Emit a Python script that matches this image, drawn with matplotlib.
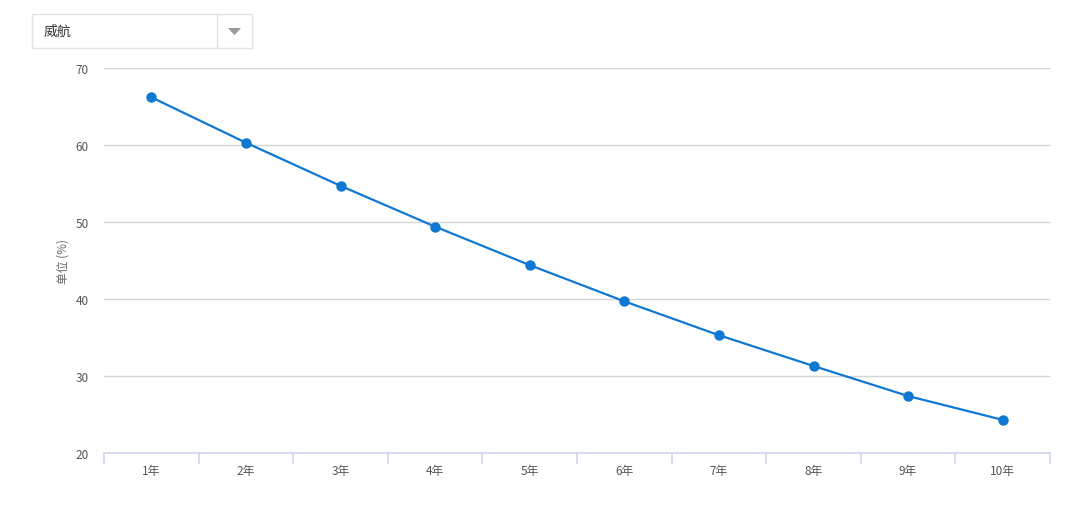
import numpy as np
import matplotlib.pyplot as plt
from matplotlib.patches import Rectangle, Polygon

plt.rcParams['font.family'] = ['Noto Sans CJK SC', 'DejaVu Sans']

# data
years = ['1年', '2年', '3年', '4年', '5年', '6年', '7年', '8年', '9年', '10年']
values = [66.2, 60.3, 54.7, 49.4, 44.4, 39.7, 35.3, 31.3, 27.4, 24.3]
selected = '威航'

fig = plt.figure(figsize=(10.8, 5.1), dpi=100)
ax = fig.add_axes([104 / 1080, 1 - 454 / 510, 946 / 1080, 385 / 510])

x = np.arange(len(years))
ax.plot(x, values, color='#0f78d2', lw=1.6, marker='o', ms=6.5, zorder=3)

ax.set_xlim(-0.5, len(years) - 0.5)
ax.set_ylim(20, 70)
ax.set_yticks([20, 30, 40, 50, 60, 70])
ax.grid(axis='y', color='#d5d5d5', lw=1)
ax.set_axisbelow(True)

for s in ['top', 'right', 'left']:
    ax.spines[s].set_visible(False)
ax.spines['bottom'].set_color('#ccd6eb')
ax.spines['bottom'].set_linewidth(1.2)

ax.set_xticks(x)
ax.set_xticklabels(years)
ax.set_xticks(np.arange(len(years) + 1) - 0.5, minor=True)
ax.tick_params(axis='x', which='major', length=0, pad=8, labelsize=8.5, labelcolor='#555555')
ax.tick_params(axis='x', which='minor', length=8, color='#ccd6eb', width=1.2)
ax.tick_params(axis='y', length=0, pad=11, labelsize=8.5, labelcolor='#555555')

ax.set_ylabel('单位 (%)', fontsize=8.5, color='#666666', labelpad=4)

# dropdown box at top left
fig.patches.append(Rectangle((32 / 1080, 1 - 49 / 510), 220 / 1080, 34 / 510,
                             transform=fig.transFigure, fc='white', ec='#e2e2e2', lw=1))
fig.lines.append(plt.Line2D([217 / 1080, 217 / 1080], [1 - 49 / 510, 1 - 15 / 510],
                            transform=fig.transFigure, color='#e2e2e2', lw=1))
fig.patches.append(Polygon([(228 / 1080, 1 - 29 / 510), (241 / 1080, 1 - 29 / 510),
                            (234.5 / 1080, 1 - 36 / 510)], closed=True,
                           transform=fig.transFigure, fc='#999999', ec='none'))
fig.text(44 / 1080, 1 - 32 / 510, selected, fontsize=10, color='#333333', va='center')

fig.savefig('out.png', dpi=100)
